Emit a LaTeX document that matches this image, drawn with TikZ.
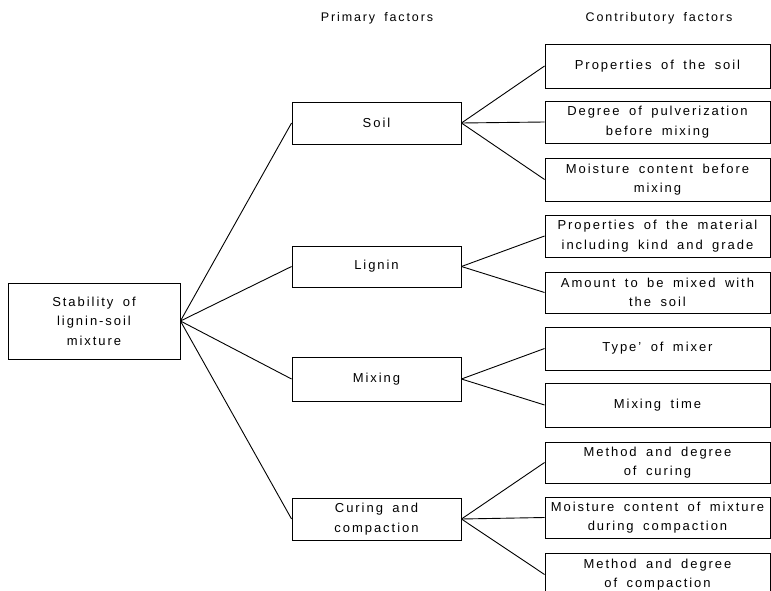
\documentclass[tikz,border=0pt]{standalone}
\usepackage{fontspec}
\setmainfont{Liberation Sans}[LetterSpace=15,WordSpace={1.7}]
\begin{document}
\begin{tikzpicture}[x=1pt,y=-1pt,
  box/.style={draw,line width=0.9pt,inner sep=0pt,align=center,
    font=\fontsize{13}{19.5}\selectfont},
  pbox/.style={box,minimum width=169pt},
  cbox/.style={box,minimum width=225pt},
  head/.style={font=\fontsize{12.5}{19.5}\selectfont},
  link/.style={line width=0.9pt}]
\useasboundingbox (0,0) rectangle (771,591);
\node[head] (h1) at (377,18) {Primary factors};
\node[head] (h2) at (659,18) {Contributory factors};
\node[box,minimum width=172pt,minimum height=76pt] (root) at (94,321) {Stability of\\lignin-soil\\mixture};
\node[pbox,minimum height=42pt] (soil) at (376.5,123) {Soil};
\node[pbox,minimum height=41pt] (lignin) at (376.5,266.5) {Lignin};
\node[pbox,minimum height=44pt] (mixing) at (376.5,379) {Mixing};
\node[pbox,minimum height=42pt] (curing) at (376.5,519) {Curing and\\compaction};
\node[cbox,minimum height=44pt] (c1) at (657.5,66) {Properties of the soil};
\node[cbox,minimum height=42pt] (c2) at (657.5,122) {Degree of pulverization\\before mixing};
\node[cbox,minimum height=43pt] (c3) at (657.5,179.5) {Moisture content before\\mixing};
\node[cbox,minimum height=42pt] (c4) at (657.5,236) {Properties of the material\\including kind and grade};
\node[cbox,minimum height=41pt] (c5) at (657.5,292.5) {Amount to be mixed with\\the soil};
\node[cbox,minimum height=43pt] (c6) at (657.5,348.5) {Type' of mixer};
\node[cbox,minimum height=44pt] (c7) at (657.5,405) {Mixing time};
\node[cbox,minimum height=41pt] (c8) at (657.5,462.5) {Method and degree\\of curing};
\node[cbox,minimum height=41pt] (c9) at (657.5,517.5) {Moisture content of mixture\\during compaction};
\node[cbox,minimum height=43pt] (c10) at (657.5,574.5) {Method and degree\\of compaction};
\foreach \p in {soil,lignin,mixing,curing} \draw[link] (root.east) -- (\p.west);
\foreach \c in {c1,c2,c3} \draw[link] (soil.east) -- (\c.west);
\foreach \c in {c4,c5} \draw[link] (lignin.east) -- (\c.west);
\foreach \c in {c6,c7} \draw[link] (mixing.east) -- (\c.west);
\foreach \c in {c8,c9,c10} \draw[link] (curing.east) -- (\c.west);
\end{tikzpicture}
\end{document}
